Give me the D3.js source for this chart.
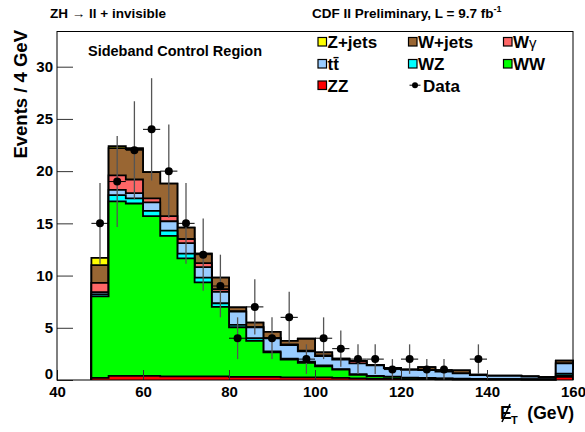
<!DOCTYPE html>
<html><head><meta charset="utf-8">
<script src="https://cdn.jsdelivr.net/npm/d3@7"></script>
<style>
body{margin:0;background:#fff}
svg{display:block}
text{font-family:"Liberation Sans",Arial,Helvetica,sans-serif;font-weight:bold;fill:#000}
</style>
</head><body>
<svg id="c" width="585" height="432"></svg>
<script>
// ---- data ----
const binLow = [48,52,56,60,64,68,72,76,80,84,88,92,96,100,104,108,112,116,120,124,128,132,136,140,144,148,152,156];
const binWidth = 4;
const zz     = [0.2,0.4,0.4,0.4,0.35,0.35,0.35,0.35,0.3,0.3,0.3,0.25,0.25,0.25,0.2,0.15,0.1,0.1,0.08,0.08,0.06,0.05,0.05,0.04,0.04,0.03,0.03,0.3];
const ww     = [7.8,16.7,16.5,15.3,13.45,11.3,9.0,6.65,4.75,3.45,2.35,1.7,1.4,1.05,0.8,0.35,0.25,0.2,0.12,0.08,0.06,0.05,0.04,0.03,0.03,0.02,0.02,0.1];
const wz     = [0.2,0.6,0.5,0.5,0.5,0.45,0.45,0.35,0.22,0.25,0.1,0.1,0.1,0.1,0.05,0.05,0.05,0.03,0.03,0.03,0.03,0.03,0.02,0.02,0.02,0.02,0.02,0.2];
const ttbar  = [0.2,0.5,0.5,0.8,0.9,1.0,1.0,1.1,1.28,1.05,1.25,1.3,1.0,0.9,0.9,1.05,1.0,0.8,0.75,0.75,0.65,0.5,0.35,0.3,0.3,0.25,0.2,1.0];
const wgamma = [0.9,1.4,1.3,0.4,0.5,0.4,0.4,0.25,0.05,0,0,0.05,0.05,0.05,0.05,0.2,0,0,0,0,0,0,0,0,0,0,0,0];
const wjets  = [1.7,2.6,2.9,2.5,3.1,1.1,0.9,1.1,0.35,0.45,0.6,0.35,1.15,0.3,0.05,0.02,0.04,0.02,0.01,0.28,0.05,0.3,0.05,0.02,0.02,0.02,0.02,0.25];
const zjets  = [0.7,0.2,0.1,0,0,0,0,0,0,0,0,0,0,0,0,0,0,0,0,0,0,0,0,0,0,0,0,0];
const dataCounts = [15,19,22,24,20,15,12,9,4,7,4,6,2,4,3,2,2,1,2,1,1,0,2,0,0,0,0,0];
const xTicks = [40,60,80,100,120,140,160];
const yTicks = [0,5,10,15,20,25,30];

// series config (stack order bottom -> top)
const seriesKeys   = ["ZZ","WW","WZ","tt","Wg","Wjets","Zjets"];
const seriesValues = {ZZ:zz, WW:ww, WZ:wz, tt:ttbar, Wg:wgamma, Wjets:wjets, Zjets:zjets};
const seriesColor  = {ZZ:"#ff0000", WW:"#00ff00", WZ:"#00ffff", tt:"#99ccff", Wg:"#ff6666", Wjets:"#996633", Zjets:"#ffff00"};

// ---- layout ----
const svg = d3.select("#c");
const L = 57, R = 573, T = 31.5, B = 380;
const x = d3.scaleLinear().domain([40,160]).range([L,R]);
const y = d3.scaleLinear().domain([0,33.37]).range([B,T]);

svg.append("rect").attr("width",585).attr("height",432).attr("fill","#fff");

// ---- stack ----
const table = binLow.map((b,i)=>{const r={bin:b}; seriesKeys.forEach(k=>r[k]=seriesValues[k][i]); return r;});
const stacked = d3.stack().keys(seriesKeys)(table);
const line = d3.line().x(d=>x(d[0])).y(d=>y(d[1]));
function stepPts(tops){
  const p=[[binLow[0],0]];
  tops.forEach((t,i)=>{p.push([binLow[i],t]); p.push([binLow[i]+binWidth,t]);});
  p.push([binLow[binLow.length-1]+binWidth,0]);
  return p;
}
const gStack = svg.append("g");
stacked.slice().reverse().forEach(s=>{
  gStack.append("path")
    .attr("d", line(stepPts(s.map(d=>d[1]))))
    .attr("fill", seriesColor[s.key])
    .attr("stroke","#000").attr("stroke-width",1.8).attr("stroke-linejoin","miter");
});

// ---- data points ----
const pts = binLow.map((b,i)=>({xc:b+binWidth/2, n:dataCounts[i]})).filter(d=>d.n>0);
const gData = svg.append("g");
pts.forEach(d=>{
  const e=Math.sqrt(d.n);
  gData.append("line").attr("x1",x(d.xc)).attr("x2",x(d.xc)).attr("y1",y(d.n-e)).attr("y2",y(d.n+e))
    .attr("stroke","#555").attr("stroke-width",1.3);
  gData.append("line").attr("x1",x(d.xc-binWidth/2)).attr("x2",x(d.xc+binWidth/2)).attr("y1",y(d.n)).attr("y2",y(d.n))
    .attr("stroke","#000").attr("stroke-width",1);
  gData.append("circle").attr("cx",x(d.xc)).attr("cy",y(d.n)).attr("r",4).attr("fill","#000");
});

// ---- axes ----
const gy = svg.append("g").attr("transform",`translate(${L},0)`);
gy.call(d3.axisLeft(y).tickValues(d3.range(0,34,1)).tickSize(-8).tickFormat(""));
gy.call(d3.axisLeft(y).tickValues(yTicks).tickSize(-16).tickPadding(4).tickFormat(d3.format("d")));
gy.selectAll(".domain").remove();
gy.selectAll("line").attr("stroke","#333");
gy.selectAll("text").attr("font-size",15).attr("font-weight","bold").attr("font-family","Liberation Sans, Arial, sans-serif").attr("fill","#000");
gy.selectAll(".tick text").filter(d=>d===0).attr("dy","-0.1em");

const gx = svg.append("g").attr("transform",`translate(0,${B})`);
gx.call(d3.axisBottom(x).tickValues(d3.range(40,161,5)).tickSize(-5).tickFormat(""));
gx.call(d3.axisBottom(x).tickValues(xTicks).tickSize(-10).tickPadding(6).tickFormat(d3.format("d")));
gx.selectAll(".domain").remove();
gx.selectAll("line").attr("stroke","#333");
gx.selectAll("text").attr("font-size",15).attr("font-weight","bold").attr("font-family","Liberation Sans, Arial, sans-serif").attr("fill","#000");

// frame
svg.append("rect").attr("x",L).attr("y",T).attr("width",R-L).attr("height",B-T)
  .attr("fill","none").attr("stroke","#000").attr("stroke-width",1);

// ---- titles ----
const t1 = svg.append("text").attr("x",50).attr("y",18).attr("font-size",13.5);
t1.append("tspan").text("ZH ");
t1.append("tspan").attr("font-weight","normal").text("→");
t1.append("tspan").text(" ll + invisible");

const t2 = svg.append("text").attr("x",312).attr("y",18).attr("font-size",13.5);
t2.append("tspan").text("CDF II Preliminary, L = 9.7 fb");
t2.append("tspan").attr("font-size",9).attr("dy",-6).text("-1");

svg.append("text").attr("x",88).attr("y",56).attr("font-size",14.5).text("Sideband Control Region");

// y title
svg.append("text").attr("transform","translate(27,30) rotate(-90)").attr("text-anchor","end")
  .attr("font-size",18.5).text("Events / 4 GeV");

// x title
svg.append("text").attr("x",500).attr("y",419).attr("font-size",17.5).text("E");
svg.append("line").attr("x1",502).attr("y1",422).attr("x2",510).attr("y2",404).attr("stroke","#000").attr("stroke-width",1.6);
svg.append("text").attr("x",511).attr("y",424).attr("font-size",11).text("T");
svg.append("text").attr("x",574).attr("y",419).attr("text-anchor","end").attr("font-size",17.5).text("(GeV)");

// ---- legend ----
const legendItems = [
  {key:"Zjets", label:"Z+jets", col:0, row:0},
  {key:"Wjets", label:"W+jets", col:1, row:0},
  {key:"Wg",    label:"Wγ",     col:2, row:0},
  {key:"tt",    label:"tt̄",     col:0, row:1},
  {key:"WZ",    label:"WZ",     col:1, row:1},
  {key:"WW",    label:"WW",     col:2, row:1},
  {key:"ZZ",    label:"ZZ",     col:0, row:2},
  {key:"Data",  label:"Data",   col:1, row:2}
];
const colX = [318, 408.5, 503.5], rowY = [37.5, 59.5, 81];
const gL = svg.append("g");
legendItems.forEach(it=>{
  const bx = colX[it.col], by = rowY[it.row];
  if(it.key==="Data"){
    gL.append("line").attr("x1",bx+1).attr("x2",bx+12).attr("y1",by+4.2).attr("y2",by+4.2).attr("stroke","#000").attr("stroke-width",1);
    gL.append("circle").attr("cx",bx+6.5).attr("cy",by+4.2).attr("r",3).attr("fill","#000");
  } else {
    gL.append("rect").attr("x",bx).attr("y",by).attr("width",8.5).attr("height",8.5)
      .attr("fill",seriesColor[it.key]).attr("stroke","#000").attr("stroke-width",1.2);
  }
  const tx = gL.append("text").attr("x",bx+ (it.key==="Data"?14.5:9.5)).attr("y",by+10.5).attr("font-size",17);
  if(it.key==="Wg"){
    tx.append("tspan").text("W");
    tx.append("tspan").attr("font-weight","normal").attr("font-size",15).text("γ");
  } else tx.text(it.label);
});
</script>
</body></html>
